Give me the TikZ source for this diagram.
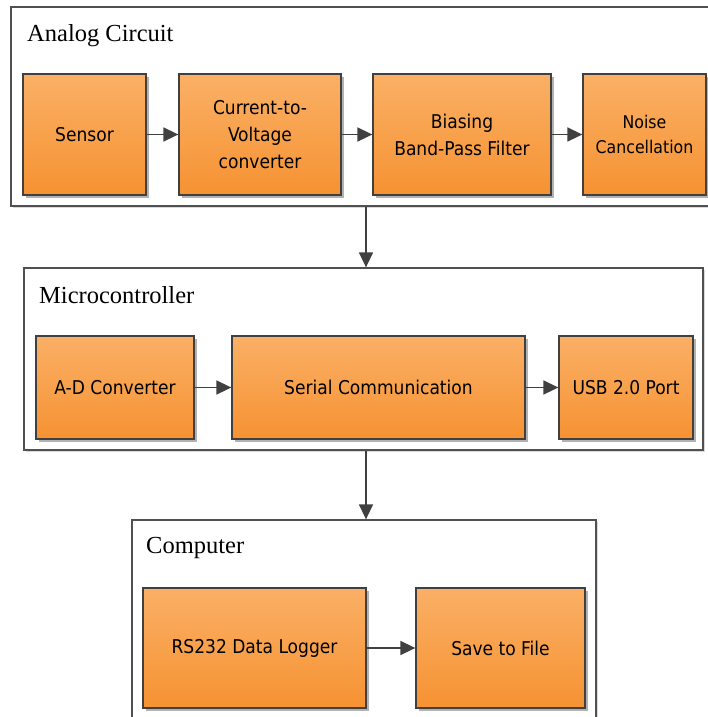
\documentclass[tikz,border=0pt]{standalone}
\usepackage{fontspec}
\setmainfont{Liberation Serif}
\newfontfamily\boxfont{DejaVu Sans Condensed}
\usetikzlibrary{arrows.meta,shadows}
\definecolor{orTop}{RGB}{250,176,102}
\definecolor{orBot}{RGB}{246,146,50}
\definecolor{edge}{RGB}{64,64,64}
\definecolor{frame}{RGB}{80,80,80}
\tikzset{
  blk/.style={draw=edge, line width=1.3pt, top color=orTop, bottom color=orBot,
    inner sep=0pt, align=center, font=\boxfont\fontsize{19}{27}\selectfont,
    drop shadow={shadow xshift=2.5pt, shadow yshift=-2.5pt, fill=black, opacity=0.3}},
  grp/.style={draw=frame, line width=1.3pt, fill=white, inner sep=0pt,
    drop shadow={shadow xshift=1.5pt, shadow yshift=-1.5pt, fill=black, opacity=0.15}},
  ttl/.style={font=\fontsize{24.5}{24.5}\selectfont, anchor=base west, inner sep=0pt},
  arr/.style={draw=edge, line width=1.6pt, -{Triangle[length=15pt,width=14pt]}}
}
\begin{document}
\begin{tikzpicture}[x=1pt,y=-1pt]
\useasboundingbox (0,0) rectangle (708,717);
\clip (0,0) rectangle (708,717);
% containers
\node[grp, minimum width=701pt, minimum height=199pt] (analog) at (361.5,106.5) {};
\node[grp, minimum width=679pt, minimum height=182pt] (micro) at (363.5,359) {};
\node[grp, minimum width=464pt, minimum height=210pt] (comp) at (364,625) {};
% titles
\node[ttl] (tA) at (27,42) {Analog Circuit};
\node[ttl] (tM) at (39,303) {Microcontroller};
\node[ttl] (tC) at (146,553) {Computer};
% analog blocks
\node[blk, minimum width=123pt, minimum height=121pt] (sensor) at (84.5,134.5) {Sensor};
\node[blk, minimum width=162pt, minimum height=121pt] (ctv) at (260,134.5) {Current-to-\\Voltage\\converter};
\node[blk, minimum width=178pt, minimum height=121pt] (bias) at (462,134.5) {Biasing\\Band-Pass Filter};
\node[blk, minimum width=123pt, minimum height=121pt, font=\boxfont\fontsize{17.5}{25}\selectfont] (noise) at (644.5,134.5) {Noise\\Cancellation};
% micro blocks
\node[blk, minimum width=158pt, minimum height=103pt] (adc) at (115,387.5) {A-D Converter};
\node[blk, minimum width=293pt, minimum height=103pt] (serial) at (378.5,387.5) {Serial Communication};
\node[blk, minimum width=134pt, minimum height=103pt] (usb) at (626,387.5) {USB 2.0 Port};
% computer blocks
\node[blk, minimum width=223pt, minimum height=120pt] (rs) at (254.5,648) {RS232 Data Logger};
\node[blk, minimum width=169pt, minimum height=120pt] (save) at (500.5,648) {Save to File};
% connectors
\coordinate (mx) at (366,0);
\draw[arr] (analog.south -| mx) -- (micro.north -| mx);
\draw[arr] (micro.south -| mx) -- (comp.north -| mx);
\draw[arr] (sensor) -- (ctv);
\draw[arr] (ctv) -- (bias);
\draw[arr] (bias) -- (noise);
\draw[arr] (adc) -- (serial);
\draw[arr] (serial) -- (usb);
\draw[arr] (rs) -- (save);
\end{tikzpicture}
\end{document}
